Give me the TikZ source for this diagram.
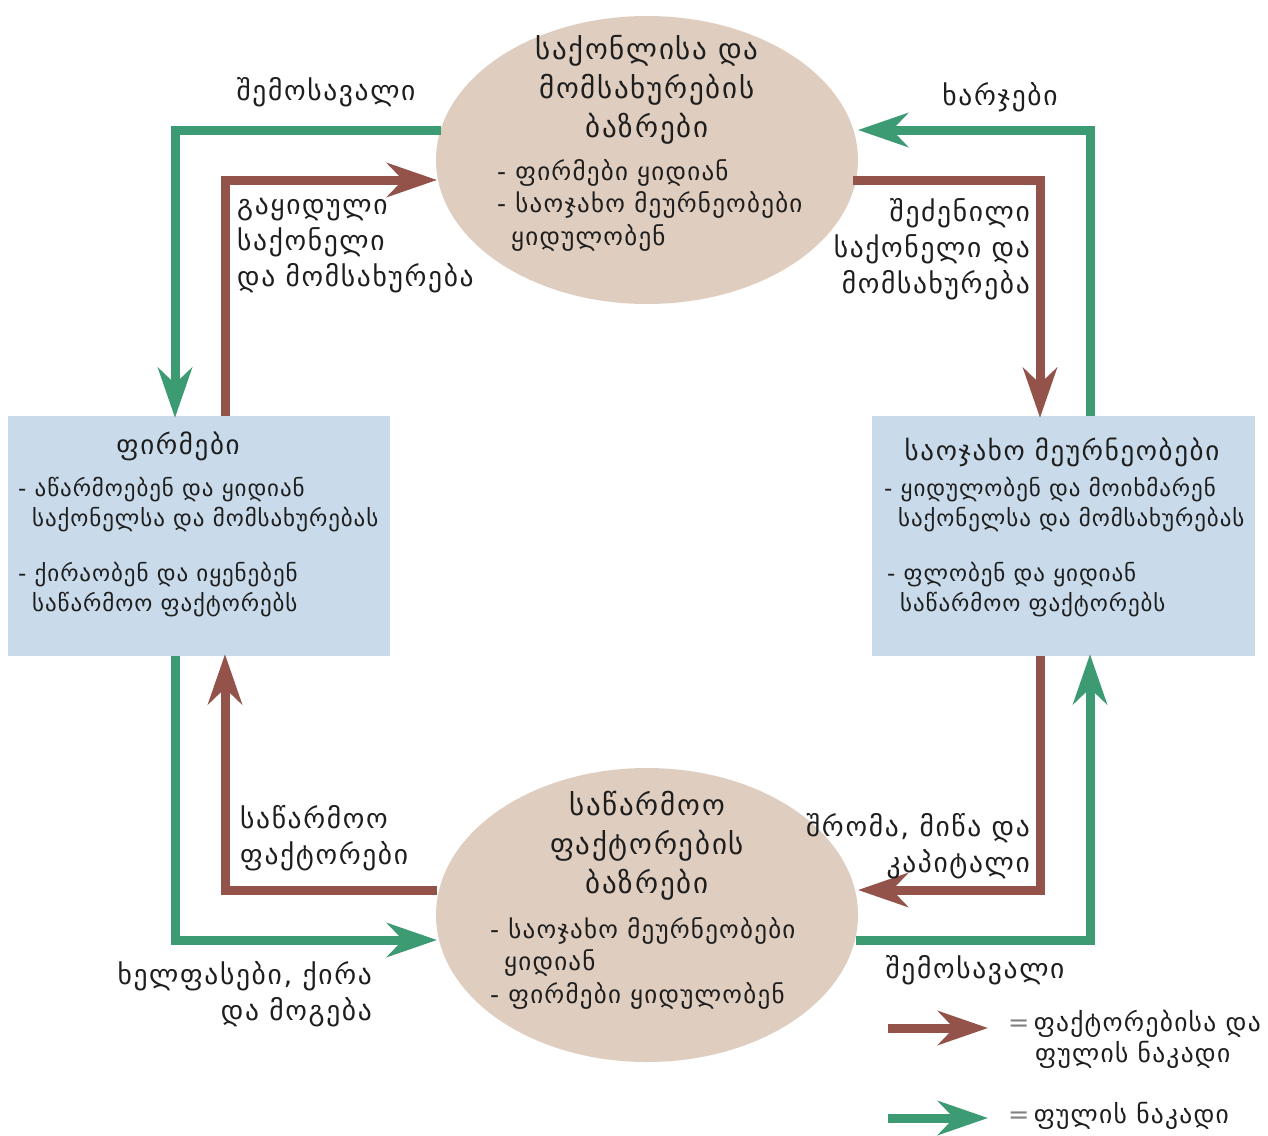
\documentclass[tikz,border=0pt]{standalone}
\usepackage{fontspec}
\setmainfont{DejaVu Sans}
\newfontfamily\fttitle[LetterSpace=6]{DejaVu Sans}
\newfontfamily\ftlabel[LetterSpace=6]{DejaVu Sans}
\newfontfamily\ftlist[LetterSpace=5]{DejaVu Sans}
\newfontfamily\ftbox[LetterSpace=4]{DejaVu Sans}
\usetikzlibrary{arrows.meta,shapes.geometric}
\definecolor{flowgreen}{HTML}{3D9B74}
\definecolor{flowbrown}{HTML}{94534A}
\definecolor{ellfill}{HTML}{DFCDBF}
\definecolor{boxfill}{HTML}{C9DBEA}
\definecolor{txt}{HTML}{1E1E1E}
\tikzset{
  market/.style={ellipse, fill=ellfill, draw=none, minimum width=422pt, minimum height=288pt, inner sep=0pt},
  sector/.style={rectangle, fill=boxfill, draw=none, minimum width=382pt, minimum height=240pt, inner sep=0pt},
  gflow/.style={draw=flowgreen, line width=9pt, -{Stealth[length=50pt,width=34pt,inset=16pt]}},
  bflow/.style={draw=flowbrown, line width=9pt, -{Stealth[length=50pt,width=34pt,inset=16pt]}},
  title/.style={text=txt, font=\fttitle\fontsize{29}{39}\selectfont, align=center, inner sep=0pt},
  boxtitle/.style={text=txt, font=\fttitle\fontsize{27}{36}\selectfont, align=center, inner sep=0pt},
  lbl/.style={text=txt, font=\ftlabel\fontsize{27.5}{36}\selectfont, inner sep=0pt},
  lst/.style={text=txt, font=\ftlist\fontsize{25}{32.5}\selectfont, inner sep=0pt, align=left},
  boxlst/.style={text=txt, font=\ftbox\fontsize{23}{30}\selectfont, inner sep=0pt, align=left},
  leg/.style={text=txt, font=\ftlist\fontsize{25.5}{31}\selectfont, inner sep=0pt, align=left},
}
\begin{document}
\begin{tikzpicture}[x=1pt,y=-1pt]
\useasboundingbox[fill=white] (0,0) rectangle (1268,1135);

% shapes
\node[market] (top) at (647,160) {};
\node[market, minimum height=294pt] (bot) at (647,915) {};
\node[sector] (firms) at (199,536) {};
\node[sector, minimum width=383pt] (hh) at (1063.5,536) {};

% connector end points on the ellipses
\coordinate (tgL) at (441,130);
\coordinate (tbL) at (437,180);
\coordinate (tgR) at (858,130);
\coordinate (tbR) at (853,180);
\coordinate (bbL) at (437,890);
\coordinate (bgL) at (437,940);
\coordinate (bbR) at (858,890);
\coordinate (bgR) at (856,940);

% flows
\draw[gflow] (tgL) -| ([xshift=-24pt,yshift=-2pt]firms.north);
\draw[bflow] ([xshift=26pt]firms.north) |- (tbL);
\draw[gflow] ([xshift=26.5pt]hh.north) |- (tgR);
\draw[bflow] (tbR) -| ([xshift=-23.5pt,yshift=-2pt]hh.north);
\draw[gflow] ([xshift=-24pt]firms.south) |- (bgL);
\draw[bflow] (bbL) -| ([xshift=26pt,yshift=2pt]firms.south);
\draw[bflow] ([xshift=-23.5pt]hh.south) |- (bbR);
\draw[gflow] (bgR) -| ([xshift=26.5pt,yshift=2pt]hh.south);

% texts in the top ellipse
\node[title, anchor=north] (toptitle) at (647,35) {საქონლისა და\\მომსახურების\\ბაზრები};
\node[lst, anchor=north west] (toplist) at (497,159) {- ფირმები ყიდიან\\- საოჯახო მეურნეობები\\\hspace*{14pt}ყიდულობენ};

% texts in the bottom ellipse
\node[title, anchor=north] (bottitle) at (647,791) {საწარმოო\\ფაქტორების\\ბაზრები};
\node[lst, anchor=north west] (botlist) at (490,917) {- საოჯახო მეურნეობები\\\hspace*{14pt}ყიდიან\\- ფირმები ყიდულობენ};

% texts in the boxes
\node[boxtitle, anchor=center] (firmstitle) at (178,446) {ფირმები};
\node[boxlst, anchor=north west] (firmslist) at (18,477) {- აწარმოებენ და ყიდიან\\\hspace*{14pt}საქონელსა და მომსახურებას\\[25pt]- ქირაობენ და იყენებენ\\\hspace*{14pt}საწარმოო ფაქტორებს};
\node[boxtitle, anchor=center] (hhtitle) at (1062,452) {საოჯახო მეურნეობები};
\node[boxlst, anchor=north west] (hhlist) at (884,477) {- ყიდულობენ და მოიხმარენ\\\hspace*{14pt}საქონელსა და მომსახურებას\\[25pt]\hspace*{3pt}- ფლობენ და ყიდიან\\\hspace*{16pt}საწარმოო ფაქტორებს};

% flow labels
\node[lbl, anchor=center] (l1) at (326,92) {შემოსავალი};
\node[lbl, anchor=north west, align=left] (l2) at (237,198) {გაყიდული\\საქონელი\\და მომსახურება};
\node[lbl, anchor=center] (l3) at (1000,97) {ხარჯები};
\node[lbl, anchor=north east, align=right] (l4) at (1030,198) {შეძენილი\\საქონელი და\\მომსახურება};
\node[lbl, anchor=north west, align=left] (l5) at (240,805) {საწარმოო\\ფაქტორები};
\node[lbl, anchor=north east, align=right] (l6) at (1030,813) {შრომა, მიწა და\\კაპიტალი};
\node[lbl, anchor=north east, align=right] (l7) at (372,961) {ხელფასები, ქირა\\და მოგება};
\node[lbl, anchor=center] (l8) at (975,970) {შემოსავალი};

% legend
\coordinate (lb1) at (888,1028);
\coordinate (lb2) at (988,1028);
\coordinate (lg1) at (888,1118);
\coordinate (lg2) at (988,1118);
\draw[bflow] (lb1) -- (lb2);
\draw[gflow] (lg1) -- (lg2);
\node[leg, anchor=north west] (leg1) at (1008,1010) {{\color{gray}=}\,ფაქტორებისა და\\\hspace*{27pt}ფულის ნაკადი};
\node[leg, anchor=west] (leg2) at (1008,1116) {{\color{gray}=}\,ფულის ნაკადი};
\end{tikzpicture}
\end{document}
